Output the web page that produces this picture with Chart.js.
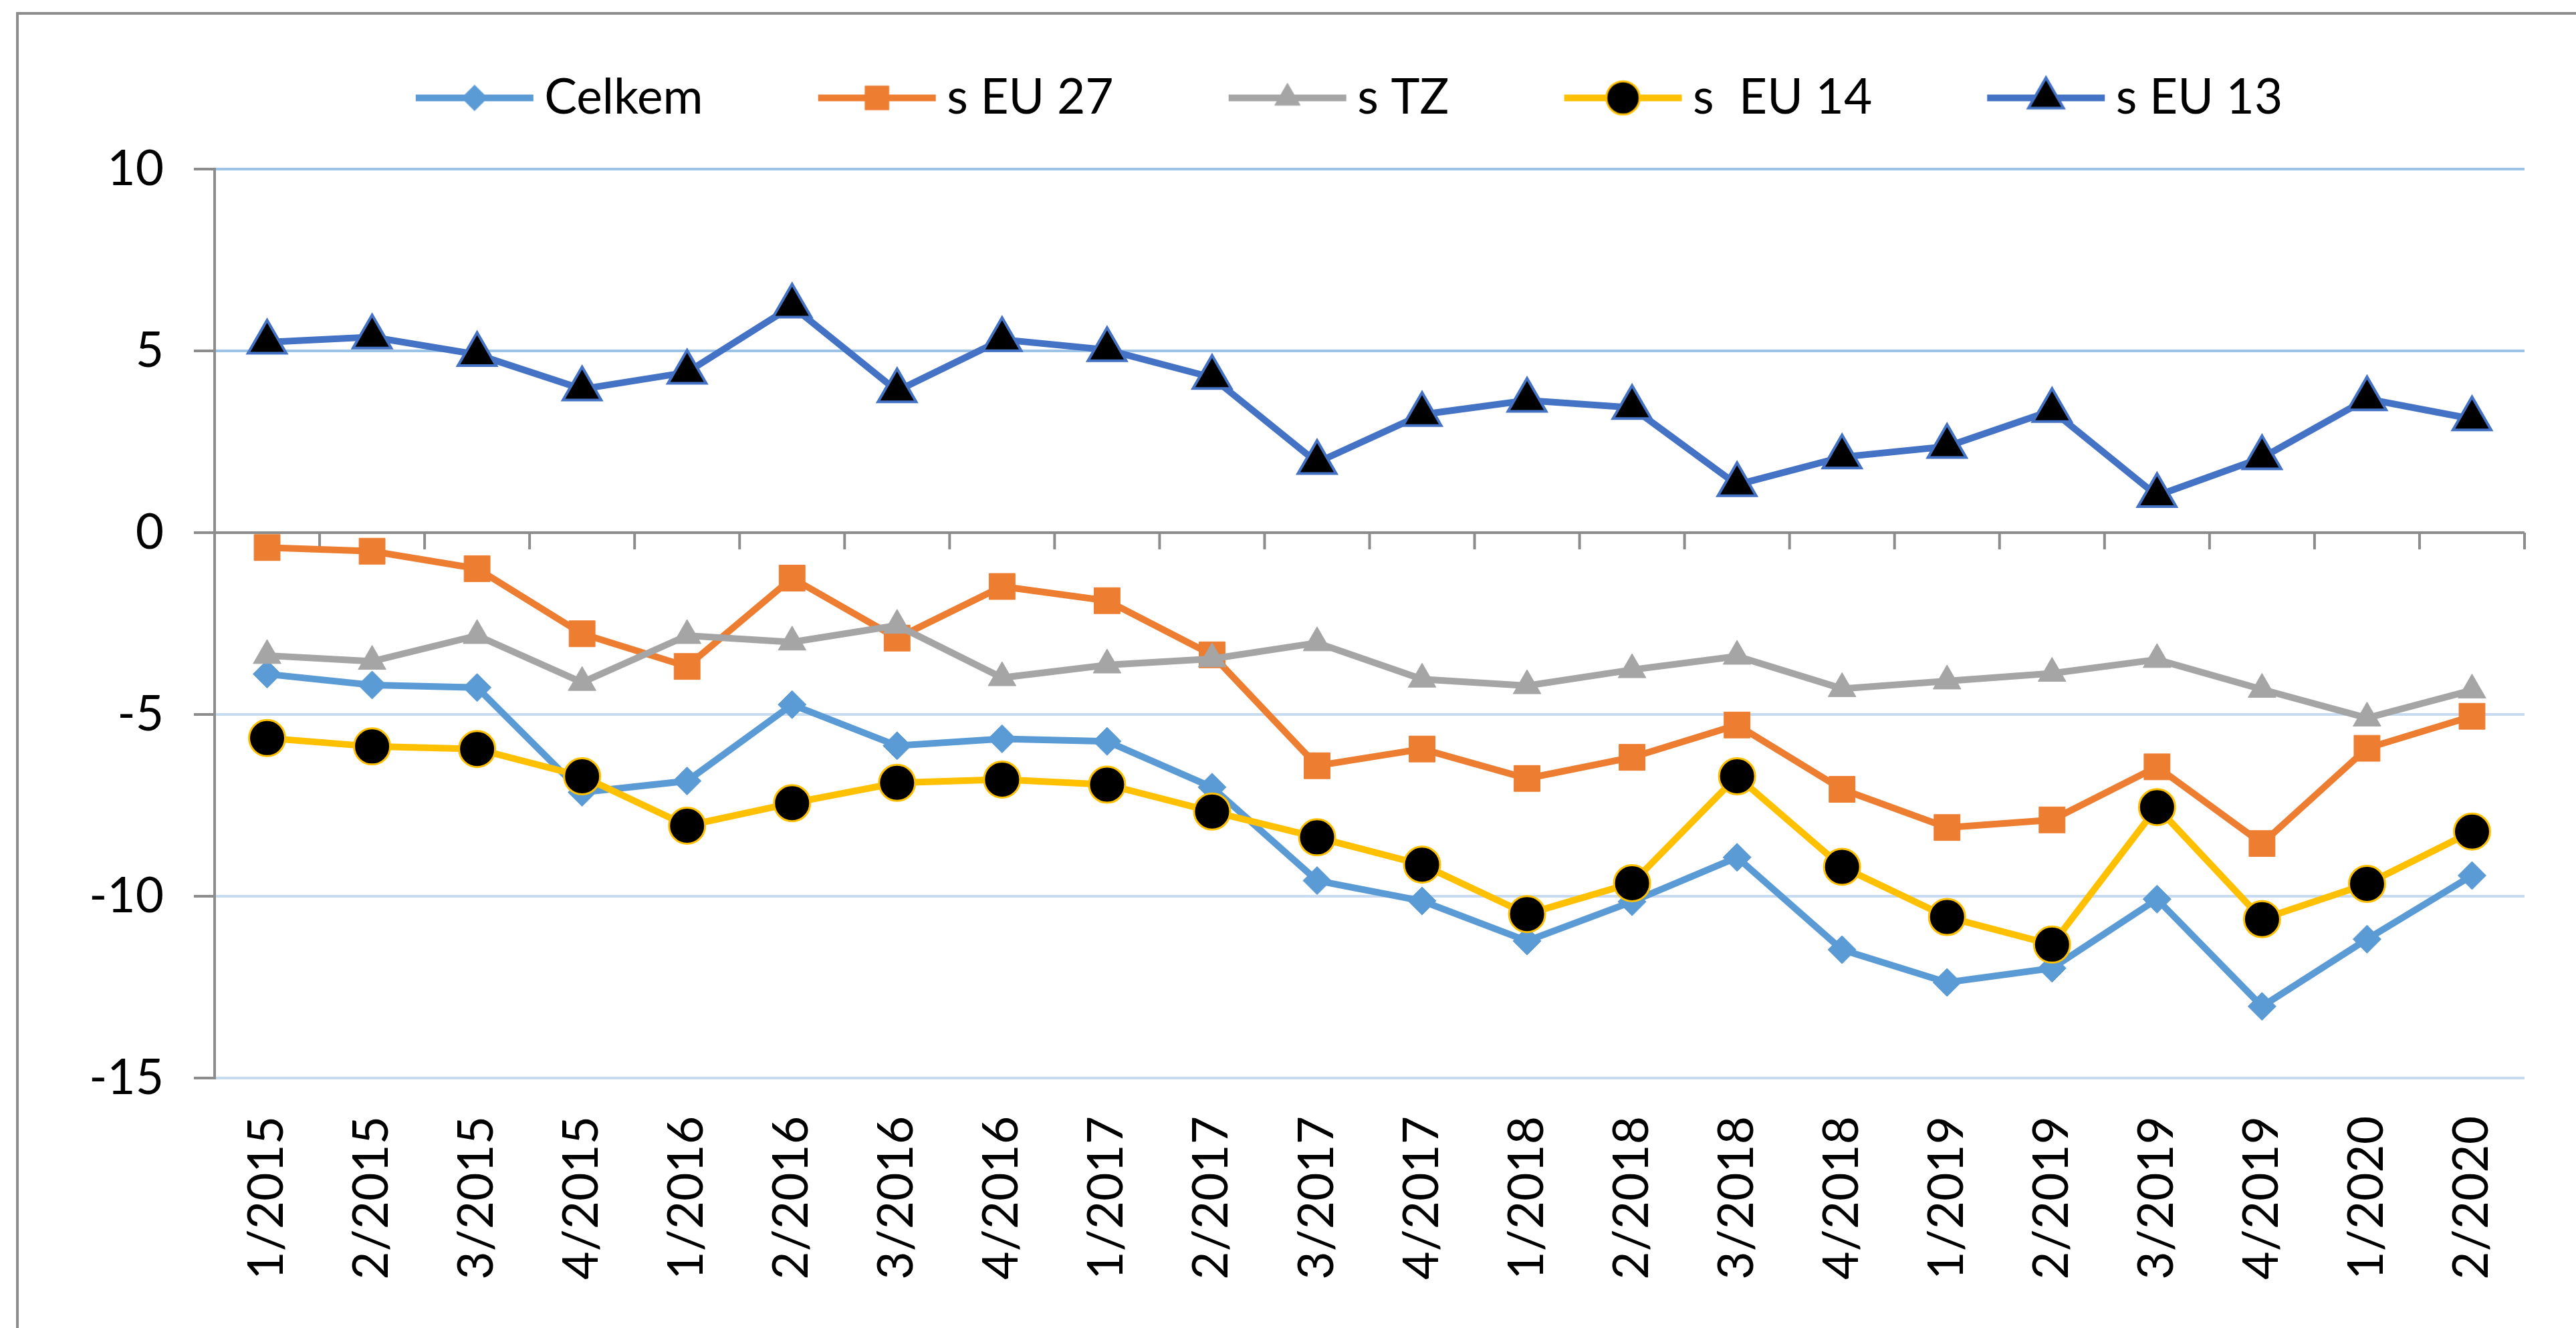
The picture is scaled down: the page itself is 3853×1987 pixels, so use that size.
<!DOCTYPE html>
<html>
<head>
<meta charset="utf-8">
<script src="https://cdn.jsdelivr.net/npm/chart.js@4.4.1/dist/chart.umd.min.js"></script>
<style>
html,body{margin:0;padding:0;background:#fff;overflow:hidden}
canvas{display:block}
</style>
</head>
<body>
<canvas id="c" width="3853" height="1987"></canvas>
<script>
// ---- data ----
const categories = ['1/2015','2/2015','3/2015','4/2015','1/2016','2/2016','3/2016','4/2016',
  '1/2017','2/2017','3/2017','4/2017','1/2018','2/2018','3/2018','4/2018',
  '1/2019','2/2019','3/2019','4/2019','1/2020','2/2020'];
const seriesNames = ['Celkem', 's EU 27', 's TZ', 's  EU 14', 's EU 13'];
const celkem = [-3.89,-4.19,-4.26,-7.14,-6.83,-4.73,-5.86,-5.67,-5.74,-7.0,-9.57,-10.13,-11.23,-10.15,-8.93,-11.47,-12.37,-11.98,-10.08,-13.03,-11.18,-9.43];
const eu27 = [-0.41,-0.51,-0.99,-2.78,-3.68,-1.25,-2.9,-1.48,-1.87,-3.36,-6.41,-5.95,-6.76,-6.18,-5.29,-7.06,-8.11,-7.9,-6.44,-8.55,-5.93,-5.05];
const tz = [-3.38,-3.54,-2.83,-4.12,-2.83,-3.01,-2.55,-3.99,-3.64,-3.47,-3.03,-4.03,-4.21,-3.77,-3.4,-4.29,-4.08,-3.87,-3.49,-4.31,-5.1,-4.33];
const eu14 = [-5.65,-5.88,-5.95,-6.7,-8.06,-7.44,-6.88,-6.79,-6.93,-7.67,-8.38,-9.13,-10.49,-9.64,-6.7,-9.19,-10.57,-11.33,-7.55,-10.63,-9.66,-8.22];
const eu13 = [5.24,5.38,4.9,3.95,4.41,6.23,3.9,5.31,5.03,4.27,1.93,3.25,3.64,3.44,1.32,2.08,2.37,3.36,1.02,2.06,3.68,3.13];
const yMin = -15, yMax = 10, yStep = 5;

// ---- styling ----
const FONT_FAMILY = 'Lato';
const FS = 73;
const AXIS_GRAY = '#8C8C8C';

function makeDataset(label, data, color, style, radius, bg, bc, bw, order) {
  return {
    label, data, order,
    borderColor: color, backgroundColor: color, borderWidth: 10,
    pointStyle: style, pointRadius: radius, pointHoverRadius: radius,
    pointBackgroundColor: bg, pointBorderColor: bc, pointBorderWidth: bw,
    tension: 0, fill: false
  };
}

const datasets = [
  makeDataset(seriesNames[0], celkem, '#5B9BD5', 'rectRot', 21, '#5B9BD5', '#5B9BD5', 1, 4),
  makeDataset(seriesNames[1], eu27, '#ED7D31', 'rect', 27.5, '#ED7D31', '#ED7D31', 1, 3),
  makeDataset(seriesNames[2], tz, '#A5A5A5', 'triangle', 24, '#A5A5A5', '#A5A5A5', 1, 2),
  makeDataset(seriesNames[3], eu14, '#FFC000', 'circle', 27, '#000000', '#FFC000', 3, 1),
  makeDataset(seriesNames[4], eu13, '#4472C4', 'triangle', 33, '#000000', '#4472C4', 4, 0)
];

// legend image: line with marker, positioned so the line sits just before the text
const LEG_BOX = 308, LEG_IMG_W = 360, LEG_IMG_H = 90, LEG_LINE = 176, LEG_LINE_START = 178;
function legendImage(ds) {
  const cv = document.createElement('canvas');
  cv.width = LEG_IMG_W; cv.height = LEG_IMG_H;
  const c = cv.getContext('2d');
  const cy = LEG_IMG_H / 2;
  c.strokeStyle = ds.borderColor; c.lineWidth = ds.borderWidth;
  c.beginPath(); c.moveTo(LEG_LINE_START, cy); c.lineTo(LEG_LINE_START + LEG_LINE, cy); c.stroke();
  c.fillStyle = ds.pointBackgroundColor; c.strokeStyle = ds.pointBorderColor; c.lineWidth = ds.pointBorderWidth;
  Chart.helpers.drawPoint(c, {pointStyle: ds.pointStyle, radius: ds.pointRadius * 0.92, rotation: 0, borderWidth: ds.pointBorderWidth},
    LEG_LINE_START + LEG_LINE / 2, cy);
  return cv;
}

const framePlugin = {
  id: 'frame',
  beforeInit(chart) {
    const orig = chart.legend.fit;
    chart.legend.fit = function () { orig.call(this); this.height += 60; };
  },
  beforeDraw(chart) {
    const c = chart.ctx;
    c.save();
    c.fillStyle = '#fff'; c.fillRect(0, 0, chart.width, chart.height);
    c.strokeStyle = AXIS_GRAY; c.lineWidth = 4;
    c.beginPath(); c.moveTo(26, chart.height); c.lineTo(26, 20); c.lineTo(chart.width, 20); c.stroke();
    c.restore();
  },
  beforeDatasetsDraw(chart) {
    const c = chart.ctx, xs = chart.scales.x, ys = chart.scales.y;
    const y0 = ys.getPixelForValue(0);
    c.save();
    c.strokeStyle = AXIS_GRAY; c.lineWidth = 4;
    c.beginPath();
    for (let i = 1; i <= categories.length; i++) {
      const px = xs.getPixelForValue(i - 0.5);
      c.moveTo(px, y0); c.lineTo(px, y0 + 25);
    }
    c.stroke();
    c.restore();
  }
};

function build() {
  Chart.defaults.font.family = FONT_FAMILY;
  Chart.defaults.font.size = FS;
  Chart.defaults.color = '#000';
  new Chart(document.getElementById('c'), {
    type: 'line',
    data: { labels: categories, datasets },
    options: {
      responsive: false, animation: false, devicePixelRatio: 1,
      layout: { padding: { left: 108, right: 77, top: 90, bottom: 0 } },
      plugins: {
        tooltip: { enabled: false },
        legend: {
          position: 'top',
          labels: {
            usePointStyle: true, pointStyleWidth: LEG_BOX, padding: 20,
            font: { family: FONT_FAMILY, size: FS }, color: '#000',
            generateLabels: (chart) => chart.data.datasets.map((ds, i) => ({
              text: ds.label, pointStyle: legendImage(ds), datasetIndex: i,
              hidden: false, lineWidth: 0, fillStyle: ds.borderColor, strokeStyle: ds.borderColor
            }))
          }
        }
      },
      scales: {
        x: {
          type: 'category', offset: true,
          grid: { display: false, drawTicks: false },
          border: { display: false },
          ticks: { autoSkip: false, minRotation: 90, maxRotation: 90, padding: 57,
            font: { family: FONT_FAMILY, size: FS }, color: '#000' },
          afterFit: (s) => { s.height = 374; }
        },
        y: {
          min: yMin, max: yMax,
          ticks: { stepSize: yStep, padding: 45, font: { family: FONT_FAMILY, size: FS }, color: '#000',
            callback: (v) => String(v) },
          grid: {
            color: (ctx) => ctx.tick.value === 0 ? AXIS_GRAY : (ctx.tick.value > 0 ? '#9DC3E6' : '#C6DBF2'),
            lineWidth: 4, tickLength: 31, tickColor: AXIS_GRAY, tickWidth: 4
          },
          border: { display: true, color: AXIS_GRAY, width: 4 },
          afterFit: (s) => { s.width = 213; }
        }
      }
    },
    plugins: [framePlugin]
  });
}

if (document.fonts && document.fonts.load) {
  document.fonts.load(FS + 'px ' + FONT_FAMILY).then(build, build);
} else { build(); }
</script>
</body>
</html>
